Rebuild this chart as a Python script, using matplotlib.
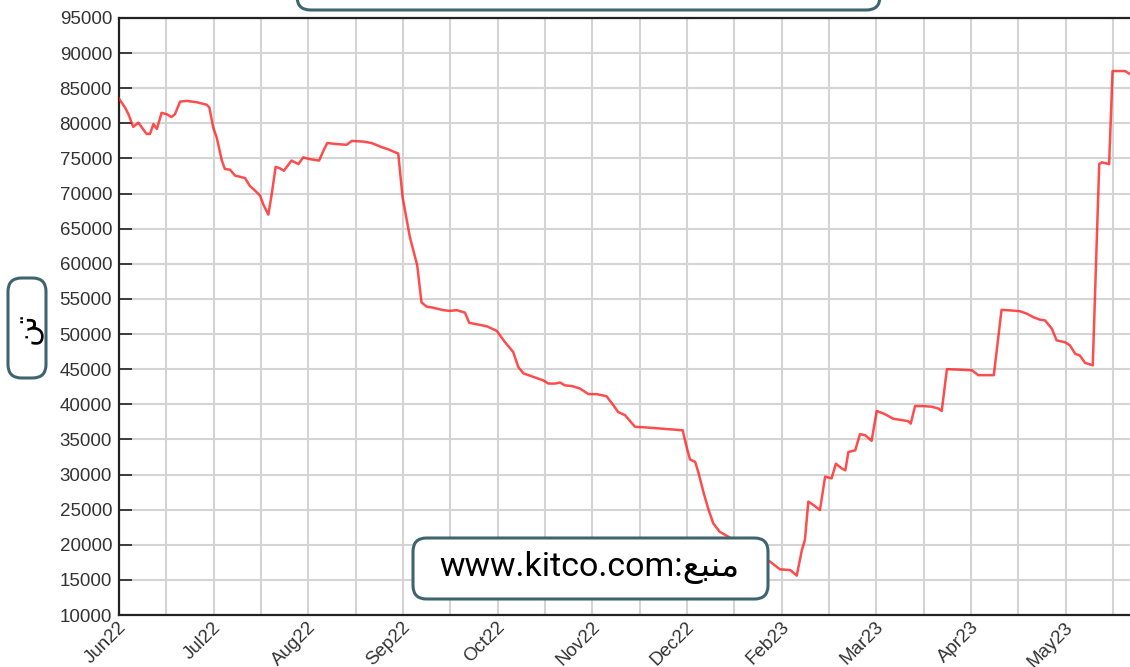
import matplotlib
matplotlib.use("Agg")
import matplotlib.pyplot as plt
from matplotlib.patches import FancyBboxPatch
import matplotlib.transforms as mtransforms

W, H = 1130, 667

# trading-day index (x) and stock in tonnes (y)
day = [0, 1.4, 2.2, 3.3, 4.5, 6.4, 7.2, 8.0, 8.8, 9.9, 11.1, 12.2, 13.0, 14.2, 15.7,
       18.1, 20.4, 21.0, 21.9, 22.7, 23.9, 24.6, 25.8, 27.0, 28.1, 29.3, 30.4, 32.0,
       32.8, 33.5, 34.7, 35.5, 36.4, 37.4, 38.3, 40.1, 41.7, 42.8, 44.4, 46.5, 47.5,
       48.4, 50.6, 52.9, 54.1, 56.8, 58.7, 61.1, 62.6, 63.7, 64.9, 65.9, 67.6, 69.3,
       70.3, 71.5, 73.0, 75.4, 76.9, 78.5, 80.4, 81.4, 83.1, 85.5, 87.8, 89.7, 91.6,
       92.8, 94.0, 96.3, 98.6, 99.8, 101.3, 102.5, 103.6, 105.2, 107.1, 109.1, 111.0,
       113.3, 114.9, 116.0, 117.6, 119.9, 122.6, 125.7, 128.8, 131.0, 131.9, 132.7,
       133.9, 134.6, 135.8, 136.9, 138.1, 139.6, 141.6, 144.3, 147.8, 151.3, 153.6,
       156.0, 157.5, 158.7, 159.4, 160.2, 161.4, 162.9, 164.1, 165.6, 166.6, 168.0,
       168.8, 169.5, 171.1, 172.2, 173.4, 174.9, 176.1, 178.0, 179.9, 181.9, 183.4,
       184.0, 185.0, 186.9, 188.9, 190.4, 191.2, 192.4, 194.7, 198.2, 199.7, 203.3,
       205.1, 207.5, 209.4, 211.0, 212.5, 214.0, 215.2, 216.8, 217.9, 219.8, 221.0,
       222.2, 223.3, 224.5, 226.3, 227.8, 228.4, 230.1, 230.9, 233.8, 235.0]
tonnes = [83500, 82250, 81300, 79500, 80100, 78500, 78500, 79900, 79200, 81500, 81300,
          80900, 81300, 83100, 83200, 83000, 82650, 82250, 79400, 78000, 74700, 73500,
          73400, 72550, 72400, 72200, 71100, 70200, 69700, 68500, 67000, 69950, 73800,
          73600, 73250, 74700, 74200, 75150, 74900, 74700, 76100, 77200, 77050, 76950,
          77500, 77400, 77200, 76600, 76300, 76000, 75700, 69500, 63800, 59800, 54500,
          53900, 53750, 53400, 53300, 53400, 53050, 51600, 51400, 51100, 50450, 48850,
          47450, 45300, 44400, 43900, 43400, 42950, 42950, 43100, 42700, 42600, 42250,
          41450, 41450, 41150, 39850, 38900, 38450, 36800, 36700, 36550, 36400, 36300,
          33950, 32150, 31800, 30400, 27550, 25200, 23050, 21850, 21150, 20000, 18800,
          17600, 16500, 16400, 15600, 19250, 20700, 26150, 25650, 24950, 29700, 29450,
          31550, 30850, 30600, 33200, 33450, 35750, 35600, 34800, 39050, 38600, 37950,
          37750, 37600, 37250, 39750, 39750, 39650, 39400, 39050, 45000, 44950, 44850,
          44150, 44150, 53450, 53350, 53250, 52900, 52400, 52050, 51950, 50750, 49100,
          48850, 48400, 47200, 46950, 45900, 45550, 74200, 74450, 74200, 87450, 87450,
          87000]

month_labels = ["Jun22", "Jul22", "Aug22", "Sep22", "Oct22", "Nov22", "Dec22",
                "Feb23", "Mar23", "Apr23", "May23"]
y_ticks = list(range(10000, 95001, 5000))

ylabel_text = "\ufee6\ufe97"  # تن, shaped and in visual order
source_text = "www.kitco.com:\ufeca\ufe92\ufee8\ufee3"  # منبع

box_edge = "#3e6470"
txt_col = "#333333"


def fx(px):
    return px / W


def fy(py):
    return 1 - py / H


fig = plt.figure(figsize=(W / 100, H / 100), dpi=100)
ax = fig.add_axes([fx(119), fy(615), 240 * 4.303 / W, (615 - 18) / H])

ax.plot(day, tonnes, color="#ff2020", alpha=0.8, lw=1.8, zorder=3)

ax.set_xlim(0, 240)
ax.set_ylim(10000, 95000)
ax.set_xticks(range(0, 232, 11), minor=True)
ax.set_xticks(range(0, 221, 22))
ax.set_xticklabels(month_labels)
ax.set_yticks(y_ticks)
ax.set_yticklabels([str(v) for v in y_ticks])

ax.grid(True, which="both", color="#d4d4d4", lw=1.5)
ax.set_axisbelow(True)

ax.tick_params(axis="y", direction="in", length=9, width=1.2, color="#222222",
               labelsize=13.5, labelcolor=txt_col, pad=5)
ax.tick_params(axis="x", which="both", length=0, labelsize=13.5, labelcolor=txt_col, pad=7)
for lab in ax.get_yticklabels() + ax.get_xticklabels():
    lab.set_family("Liberation Sans")
offset = mtransforms.ScaledTranslation(5 / 100, 0, fig.dpi_scale_trans)
for lab in ax.get_xticklabels():
    lab.set_rotation(45)
    lab.set_ha("right")
    lab.set_va("center")
    lab.set_rotation_mode("anchor")
    lab.set_transform(lab.get_transform() + offset)

for side in ["left", "bottom", "top"]:
    ax.spines[side].set_color("#222222")
    ax.spines[side].set_linewidth(1.6)
ax.spines["right"].set_visible(False)


def add_box(x0, y0, x1, y1):
    p = FancyBboxPatch((fx(x0), fy(y1)), fx(x1) - fx(x0), fy(y0) - fy(y1),
                       boxstyle="round,pad=0,rounding_size=0.012",
                       transform=fig.transFigure, facecolor="white",
                       edgecolor=box_edge, lw=2.2, mutation_aspect=W / H)
    fig.patches.append(p)


# title box (cut off at the top of the image)
add_box(297, -30, 880, 10)

# y label box
add_box(8, 278, 46, 378)
fig.text(fx(28), fy(328), ylabel_text, rotation=90, ha="center", va="center",
         fontsize=22, family=["DejaVu Sans"], color="black")

# source box
add_box(413, 538, 768, 599)
fig.text(fx(589), fy(567), source_text, ha="center", va="center",
         fontsize=24.5, family=["Roboto", "DejaVu Sans"], color="black")

fig.savefig("out.png", dpi=100)
